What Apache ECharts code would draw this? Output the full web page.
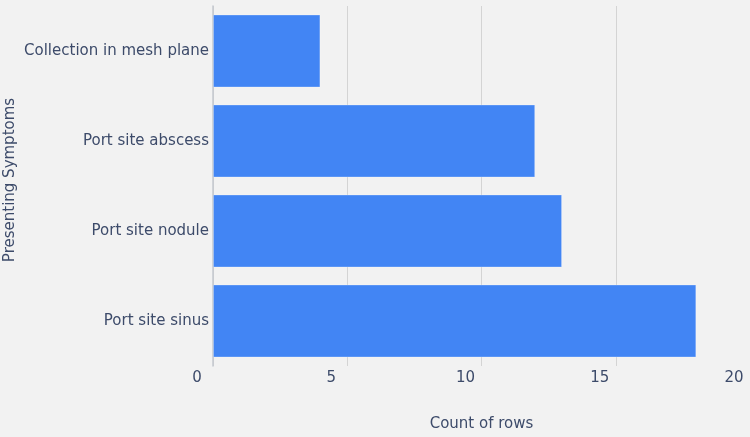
<!DOCTYPE html>
<html>
<head>
<meta charset="utf-8">
<script src="https://cdn.jsdelivr.net/npm/echarts@6/dist/echarts.min.js"></script>
<style>
  html, body { margin: 0; padding: 0; background: #f2f2f2; }
  #chart { width: 750px; height: 437px; }
</style>
</head>
<body>
<div id="chart"></div>
<script>
// data
const categories = ['Port site sinus', 'Port site nodule', 'Port site abscess', 'Collection in mesh plane'];
const counts = [18, 13, 12, 4];
const xTicks = [0, 5, 10, 15, 20];

const textColor = '#3d4b6a';
const gridColor = '#d4d4d4';

const chart = echarts.init(document.getElementById('chart'));

const option = {
  backgroundColor: '#f2f2f2',
  textStyle: { fontFamily: 'DejaVu Sans' },
  grid: { left: 213, right: 0, top: 6, bottom: 71, containLabel: false, outerBoundsMode: 'none' },
  // y axis title drawn as rotated text (axis name gets clamped at the edge)
  graphic: [
    {
      type: 'text',
      x: 10,
      y: 180,
      rotation: Math.PI / 2,
      silent: true,
      style: {
        text: 'Presenting Symptoms',
        fill: textColor,
        font: '15px "DejaVu Sans"',
        align: 'center',
        verticalAlign: 'middle'
      }
    }
  ],
  xAxis: {
    type: 'value',
    min: xTicks[0],
    max: xTicks[xTicks.length - 1],
    interval: 5,
    name: 'Count of rows',
    nameLocation: 'middle',
    nameGap: 51,
    nameTextStyle: { color: textColor, fontSize: 15 },
    axisLine: { show: false },
    axisTick: { show: false },
    axisLabel: {
      color: textColor,
      fontSize: 15,
      margin: 5,
      padding: [0, 32, 0, 0],
      showMinLabel: true,
      showMaxLabel: true
    },
    splitLine: { show: true, lineStyle: { color: gridColor, width: 1 } }
  },
  yAxis: {
    type: 'category',
    data: categories,
    axisLine: { show: true, lineStyle: { color: '#c4c8cf', width: 1.5 } },
    axisTick: { show: false },
    axisLabel: { color: textColor, fontSize: 15, margin: 4 }
  },
  series: [
    {
      type: 'bar',
      data: counts,
      barCategoryGap: '19%',
      itemStyle: {
        color: '#4285f4',
        borderColor: 'rgba(255,255,255,0.25)',
        borderWidth: 1
      },
      silent: true
    }
  ]
};

chart.setOption(option);
</script>
</body>
</html>
